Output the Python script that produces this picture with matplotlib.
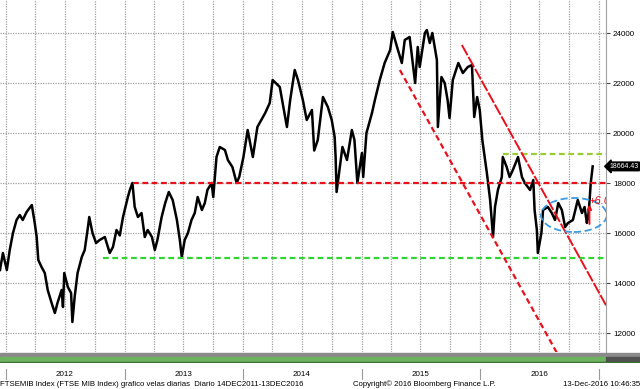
import matplotlib
matplotlib.use('Agg')
import matplotlib.pyplot as plt
import matplotlib.dates as mdates
import matplotlib.transforms as mtransforms
from matplotlib.patches import Ellipse
import pandas as pd

plt.rcParams['font.family'] = ['Liberation Sans', 'DejaVu Sans']

# FTSE MIB closes (roughly every couple of weeks)
dates = [
    '2011-12-14', '2011-12-23', '2012-01-04', '2012-01-13', '2012-01-23', '2012-02-03',
    '2012-02-13', '2012-02-22', '2012-03-05', '2012-03-21', '2012-03-30', '2012-04-05',
    '2012-04-10', '2012-04-20', '2012-04-30', '2012-05-09', '2012-05-21', '2012-05-31',
    '2012-06-08', '2012-06-21', '2012-06-25', '2012-06-29', '2012-07-10', '2012-07-20',
    '2012-07-24', '2012-07-31', '2012-08-09', '2012-08-22', '2012-08-31', '2012-09-10',
    '2012-09-14', '2012-09-24', '2012-10-05', '2012-10-16', '2012-11-01', '2012-11-16',
    '2012-11-26', '2012-12-07', '2012-12-17', '2012-12-27', '2013-01-11', '2013-01-17',
    '2013-01-25', '2013-02-01', '2013-02-11', '2013-02-22', '2013-03-04', '2013-03-13',
    '2013-03-26', '2013-04-04', '2013-04-12', '2013-04-25', '2013-05-06', '2013-05-17',
    '2013-05-29', '2013-06-11', '2013-06-20', '2013-06-26', '2013-07-05', '2013-07-15',
    '2013-07-26', '2013-08-05', '2013-08-14', '2013-08-27', '2013-09-05', '2013-09-13',
    '2013-09-26', '2013-10-01', '2013-10-11', '2013-10-21', '2013-11-06', '2013-11-15',
    '2013-11-29', '2013-12-12', '2013-12-20', '2014-01-02', '2014-01-15', '2014-01-31',
    '2014-02-14', '2014-03-10', '2014-03-24', '2014-04-02', '2014-04-24', '2014-05-16',
    '2014-05-26', '2014-06-09', '2014-06-19', '2014-07-04', '2014-07-16', '2014-08-01',
    '2014-08-08', '2014-08-19', '2014-09-04', '2014-09-19', '2014-10-01', '2014-10-10',
    '2014-10-13', '2014-10-16', '2014-11-03', '2014-11-17', '2014-12-02', '2014-12-10',
    '2014-12-19', '2015-01-02', '2015-01-06', '2015-01-16', '2015-02-02', '2015-02-11',
    '2015-02-26', '2015-03-13', '2015-03-30', '2015-04-07', '2015-04-23', '2015-05-05',
    '2015-05-14', '2015-05-29', '2015-06-15', '2015-06-23', '2015-06-29', '2015-07-15',
    '2015-07-21', '2015-07-30', '2015-08-07', '2015-08-21', '2015-08-24', '2015-09-04',
    '2015-09-14', '2015-09-23', '2015-09-29', '2015-10-09', '2015-10-26', '2015-11-09',
    '2015-11-24', '2015-12-07', '2015-12-14', '2015-12-23', '2015-12-31', '2016-01-08',
    '2016-01-22', '2016-02-01', '2016-02-10', '2016-02-16', '2016-02-25', '2016-03-08',
    '2016-03-11', '2016-03-23', '2016-04-01', '2016-04-11', '2016-04-27', '2016-05-09',
    '2016-05-18', '2016-06-03', '2016-06-13', '2016-06-17', '2016-06-24', '2016-06-27',
    '2016-07-08', '2016-07-13', '2016-07-28', '2016-08-09', '2016-08-19', '2016-08-29',
    '2016-09-09', '2016-09-19', '2016-09-28', '2016-10-13', '2016-10-28', '2016-11-10',
    '2016-11-18', '2016-11-25', '2016-11-29', '2016-12-02', '2016-12-07', '2016-12-13',
]
close = [
    14520, 15200, 14520, 15320, 16000, 16520,
    16720, 16520, 16840, 17120, 16400, 15840,
    14920, 14640, 14400, 13720, 13200, 12800,
    13200, 13720, 13040, 14400, 13840, 13600,
    12440, 13440, 14400, 15040, 15320, 16240,
    16640, 16000, 15600, 15720, 15840, 15200,
    15440, 16120, 15900, 16640, 17440, 17720,
    18000, 17040, 16640, 16800, 15840, 16120,
    15840, 15320, 15720, 16640, 17200, 17640,
    17320, 16520, 15720, 15040, 15720, 16000,
    16520, 16800, 17440, 16920, 17200, 17720,
    18000, 17440, 19040, 19440, 19320, 18920,
    18640, 18000, 18240, 19040, 20120, 19040,
    20240, 20800, 21200, 22120, 21840, 20240,
    21320, 22520, 22120, 21320, 20520, 20920,
    19300, 19720, 21440, 21040, 20520, 19840,
    19040, 17640, 19440, 18920, 20120, 19720,
    18000, 19200, 18240, 20000, 20800, 21320,
    22120, 22800, 23320, 24040, 23320, 22800,
    23720, 23840, 22000, 23440, 22640, 24000,
    24120, 23600, 24000, 22920, 20240, 22240,
    22000, 21320, 20600, 22120, 22800, 22400,
    22640, 22720, 20640, 21440, 20920, 19720,
    18400, 17320, 15840, 17040, 17720, 18240,
    19040, 18640, 18240, 18520, 19040, 18240,
    18000, 17720, 18120, 16920, 16120, 15200,
    16000, 16920, 17040, 16800, 16520, 17200,
    16920, 16240, 16400, 16520, 17320, 16800,
    17040, 16400, 16640, 17040, 18000, 18664.43,
]
last_value = 18664.43

# drawn levels
resistance = 18000
support = 15000
upper_level = 19150
year_labels = ['2012', '2013', '2014', '2015', '2016']

d = pd.to_datetime(dates)
x0 = pd.Timestamp('2011-12-14')
x1 = pd.Timestamp('2017-01-23')

fig = plt.figure(figsize=(6.4, 3.89), dpi=100)
W, H = 640.0, 389.0
ax = fig.add_axes([0, 1 - 352 / H, 606 / W, 352 / H])
ax.set_xlim(x0, x1)
ax.set_ylim(11240, 25320)

# grid
qs = pd.date_range('2012-01-01', '2017-01-01', freq='QS')
for q in qs:
    ax.axvline(q, color='#a0a0a0', lw=0.9, ls=(0, (1, 1)), zorder=0)
for v in range(12000, 25000, 2000):
    ax.axhline(v, color='#a0a0a0', lw=0.9, ls=(0, (1, 1)), zorder=0)

ax.plot(d, close, color='black', lw=1.8, zorder=3)

# levels
ax.plot([pd.Timestamp('2013-01-27'), x1], [resistance, resistance],
        color='#e8101a', lw=1.6, dashes=(2.6, 1.6), zorder=4)
ax.plot([pd.Timestamp('2012-10-26'), x1], [support, support],
        color='#2fd62f', lw=1.6, dashes=(2.6, 1.6), zorder=4)
ax.plot([pd.Timestamp('2016-03-11'), x1], [upper_level, upper_level],
        color='#9acd32', lw=1.6, dashes=(2.6, 1.6), zorder=4)

# channel
ax.plot([pd.Timestamp('2015-04-29'), pd.Timestamp('2016-08-25')], [22520, 11200],
        color='#e8101a', lw=1.6, dashes=(2.6, 1.6), zorder=4)
ax.plot([pd.Timestamp('2015-11-06'), pd.Timestamp('2017-01-26')], [23520, 13040],
        color='#e8101a', lw=1.4, dashes=(6, 1), zorder=4)

# ellipse around the range
cx = mdates.date2num(pd.Timestamp('2016-10-16'))
ax.add_patch(Ellipse((cx, 16720), 203, 1360, fill=False, ec='#3d9be0',
                     lw=1.3, ls=(0, (4, 2)), zorder=5))

ax.annotate('', xy=(pd.Timestamp('2016-12-03'), 17250), xytext=(pd.Timestamp('2016-12-03'), 16250),
            arrowprops=dict(arrowstyle='-|>', color='#e8101a', lw=1.4, mutation_scale=6), zorder=6)
ax.text(pd.Timestamp('2016-11-29'), 17300, '+6.0%', color='#e8101a', fontsize=8,
        style='italic', va='center', ha='left', clip_on=True, zorder=6)

# axis styling
for s in ['left', 'top', 'bottom']:
    ax.spines[s].set_visible(False)
ax.spines['right'].set_color('#a0a0a0')
ax.yaxis.tick_right()
ax.set_yticks(range(12000, 25000, 2000))
ax.tick_params(axis='y', labelsize=5.8, length=3, color='#444444', pad=2)
ax.set_xticks([])

# last value tag, anchored to the right edge of the figure
tr = mtransforms.blended_transform_factory(fig.transFigure, ax.transData)
ax.text(638.5 / W, last_value, '%.2f' % last_value, transform=tr, color='white', fontsize=5,
        va='center', ha='right', clip_on=False,
        bbox=dict(boxstyle='larrow,pad=0.12', fc='black', ec='black'))

# bottom band
band = fig.add_axes([0, 1 - 363 / H, 1, 11 / H])
band.set_xlim(0, 640)
band.set_ylim(11, 0)
band.axhspan(0.5, 4.5, color='#8a8a8a')
band.axhspan(5, 9.5, xmax=606 / 640, color='#6db35f')
band.axhspan(5, 9.5, xmin=606 / 640, color='#505050')
band.axhspan(9.5, 10.5, color='#3e6e36')
band.axis('off')

# year ticks and labels
tb = mtransforms.blended_transform_factory(ax.transData, fig.transFigure)
for yr in range(2012, 2018):
    t = pd.Timestamp('%d-01-01' % yr)
    ax.plot([t, t], [1 - 369 / H, 1 - 379 / H], transform=tb, color='#9a9a9a',
            lw=0.8, clip_on=False)
for lab in year_labels:
    ax.text(pd.Timestamp(lab + '-07-01'), 1 - 375 / H, lab, transform=tb,
            fontsize=5.8, ha='center', va='center')

fig.text(0.0, 1 - 384 / H,
         'FTSEMIB Index (FTSE MIB Index) grafico velas diarias  Diario 14DEC2011-13DEC2016',
         fontsize=5.6, ha='left', va='center')
fig.text(353 / W, 1 - 384 / H, 'Copyright\u00a9 2016 Bloomberg Finance L.P.',
         fontsize=5.6, ha='left', va='center')
fig.text(1.0, 1 - 384 / H, '13-Dec-2016 10:46:35', fontsize=5.6, ha='right', va='center')

fig.savefig('out.png', dpi=100)
